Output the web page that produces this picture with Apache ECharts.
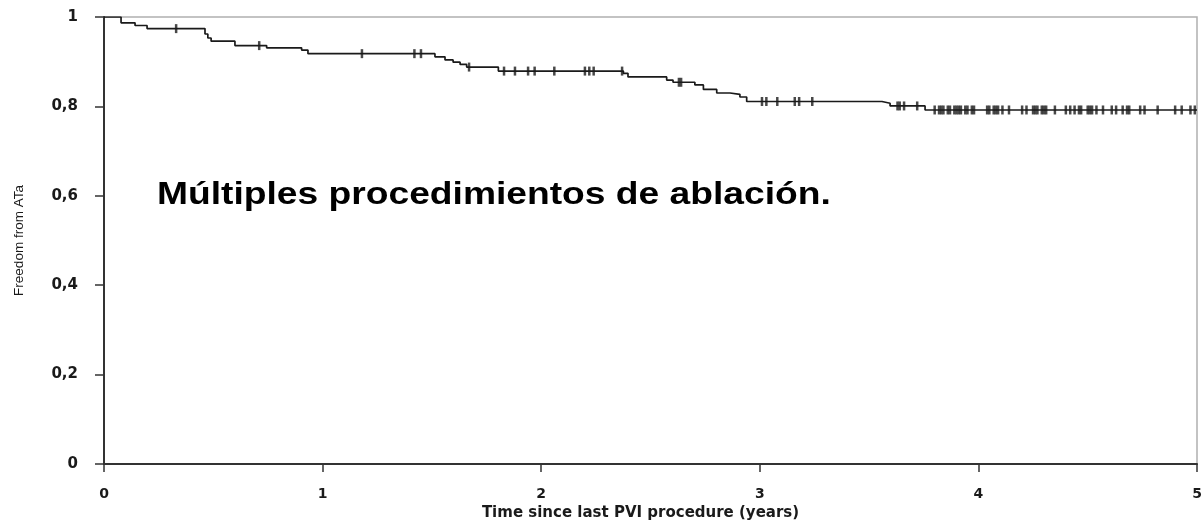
<!DOCTYPE html>
<html>
<head>
<meta charset="utf-8">
<script src="https://cdn.jsdelivr.net/npm/echarts@6/dist/echarts.min.js"></script>
<style>
  html, body { margin: 0; padding: 0; background: #fff; }
  #chart { width: 1204px; height: 521px; }
</style>
</head>
<body>
<div id="chart"></div>
<script>
// Kaplan–Meier estimate: times (years) at which an event occurs, and survival after it
const eventTimes = [0, 0.078, 0.142, 0.197, 0.462, 0.475, 0.49, 0.599, 0.744, 0.904, 0.933,
  1.514, 1.56, 1.597, 1.629, 1.659, 1.804, 2.376, 2.397, 2.574, 2.603, 2.703, 2.742, 2.803,
  2.864, 2.909, 2.94, 3.559, 3.596, 3.756];
const survival = [1, 0.987, 0.981, 0.974, 0.962, 0.953, 0.946, 0.936, 0.931, 0.926, 0.918,
  0.911, 0.904, 0.899, 0.894, 0.888, 0.879, 0.874, 0.866, 0.859, 0.854, 0.848, 0.838, 0.830,
  0.827, 0.821, 0.811, 0.807, 0.801, 0.792];
const followUpEnd = 5;

// Censored observations (years)
const censorTimes = [0.33, 0.71, 1.18, 1.42, 1.45, 1.67, 1.83, 1.88, 1.94, 1.97, 2.06, 2.20,
  2.22, 2.24, 2.37, 2.63, 2.64, 3.01, 3.03, 3.08, 3.16, 3.18, 3.24, 3.63, 3.64, 3.66, 3.72,
  3.80, 3.82, 3.83, 3.84, 3.86, 3.87, 3.89, 3.90, 3.91, 3.92, 3.94, 3.95, 3.97, 3.98,
  4.04, 4.05, 4.07, 4.08, 4.09, 4.11, 4.14, 4.20, 4.22, 4.25, 4.26, 4.27, 4.29, 4.30, 4.31,
  4.35, 4.40, 4.42, 4.44, 4.46, 4.47, 4.50, 4.51, 4.52, 4.54, 4.57, 4.61, 4.63, 4.66, 4.68,
  4.69, 4.74, 4.76, 4.82, 4.90, 4.93, 4.97, 4.99];

const xAxisTitle = 'Time since last PVI procedure (years)';
const yAxisTitle = 'Freedom from ATa';
const annotation = 'Múltiples procedimientos de ablación.';

function survivalAt(t) {
  let v = survival[0];
  for (let i = 0; i < eventTimes.length; i++) {
    if (eventTimes[i] <= t) v = survival[i];
  }
  return v;
}

const curve = eventTimes.map((t, i) => [t, survival[i]]);
curve.push([followUpEnd, survival[survival.length - 1]]);
const censored = censorTimes.map(t => [t, survivalAt(t)]);

const chart = echarts.init(document.getElementById('chart'), null, { renderer: 'canvas' });
const ink = '#1a1a1a';
const wideFont = 'DejaVu Sans, Verdana, sans-serif';
const textFont = 'Liberation Sans, Arial, sans-serif';

chart.setOption({
  animation: false,
  backgroundColor: '#ffffff',
  grid: {
    left: 104, right: 7, top: 17, bottom: 57,
    outerBoundsMode: 'none', containLabel: false,
    show: true, borderColor: '#b0b0b0', borderWidth: 1.5
  },
  xAxis: {
    type: 'value', min: 0, max: 5, interval: 1,
    name: xAxisTitle, nameLocation: 'middle', nameGap: 37,
    nameTextStyle: { fontFamily: wideFont, fontWeight: 'bold', fontSize: 15, color: ink, padding: [0, 20, 0, 0] },
    axisLine: { lineStyle: { color: '#333', width: 2 } },
    axisTick: { show: true, length: 8, lineStyle: { color: '#333', width: 1.5 } },
    axisLabel: { margin: 23, fontFamily: wideFont, fontWeight: 'bold', fontSize: 14, color: ink },
    splitLine: { show: false }
  },
  yAxis: {
    type: 'value', min: 0, max: 1, interval: 0.2,
    name: yAxisTitle, nameLocation: 'middle', nameGap: 78, nameRotate: 90,
    nameTextStyle: { fontFamily: textFont, fontSize: 13.5, color: ink },
    axisLine: { show: true, lineStyle: { color: '#333', width: 2 } },
    axisTick: { show: true, length: 9, lineStyle: { color: '#333', width: 1.5 } },
    axisLabel: {
      margin: 26, fontFamily: wideFont, fontWeight: 'bold', fontSize: 15, color: ink,
      formatter: v => String(Math.round(v * 10) / 10).replace('.', ',')
    },
    splitLine: { show: false }
  },
  graphic: [{
    type: 'text', left: 157, top: 180, scaleX: 1.2,
    style: { text: annotation, font: 'bold 31px ' + textFont, fill: '#000' }
  }],
  series: [
    {
      type: 'line', data: curve, step: 'end', showSymbol: false,
      lineStyle: { color: ink, width: 1.7 }, z: 3
    },
    {
      type: 'scatter', data: censored, symbol: 'rect', symbolSize: [2.5, 9],
      itemStyle: { color: ink }, z: 4
    }
  ]
});
</script>
</body>
</html>
